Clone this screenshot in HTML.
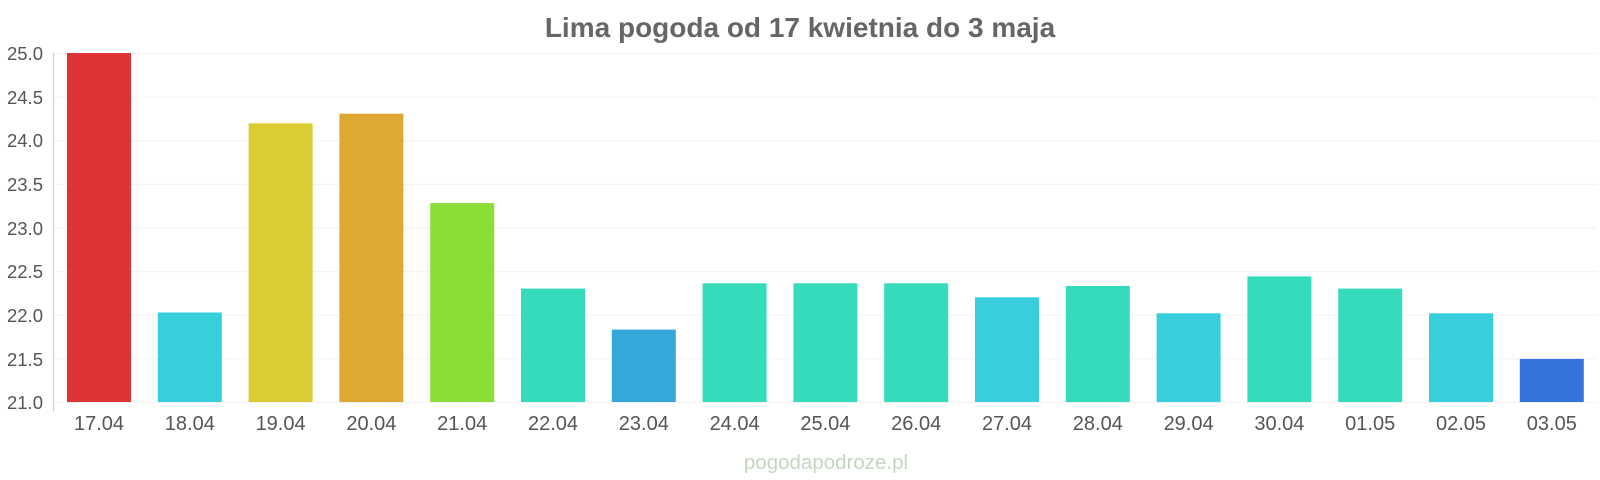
<!DOCTYPE html>
<html><head><meta charset="utf-8"><style>
html,body{margin:0;padding:0;background:#fff;}
svg{display:block;font-family:"Liberation Sans",sans-serif;}
</style></head><body>
<svg width="1600" height="480" xmlns="http://www.w3.org/2000/svg">
<text x="800" y="37" text-anchor="middle" font-size="28" font-weight="bold" fill="#666">Lima pogoda od 17 kwietnia do 3 maja</text>
<g stroke="#f2f2f2" stroke-width="1">
<line x1="53" x2="1597" y1="53.5" y2="53.5"/>
<line x1="53" x2="1597" y1="97.1" y2="97.1"/>
<line x1="53" x2="1597" y1="140.8" y2="140.8"/>
<line x1="53" x2="1597" y1="184.4" y2="184.4"/>
<line x1="53" x2="1597" y1="228" y2="228"/>
<line x1="53" x2="1597" y1="271.6" y2="271.6"/>
<line x1="53" x2="1597" y1="315.3" y2="315.3"/>
<line x1="53" x2="1597" y1="358.9" y2="358.9"/>
<line x1="53" x2="1597" y1="402.5" y2="402.5"/>
</g>
<line x1="53.5" x2="53.5" y1="53" y2="412" stroke="#ccc"/>
<g font-size="18.5" fill="#555" text-anchor="end">
<text x="43" y="60">25.0</text>
<text x="43" y="104">24.5</text>
<text x="43" y="147">24.0</text>
<text x="43" y="191">23.5</text>
<text x="43" y="235">23.0</text>
<text x="43" y="278">22.5</text>
<text x="43" y="322">22.0</text>
<text x="43" y="366">21.5</text>
<text x="43" y="409">21.0</text>
</g>
<g>
<rect x="67" y="53" width="64" height="349" fill="#dd3535"/>
<rect x="157.8" y="312.5" width="64" height="89.5" fill="#36cfdb"/>
<rect x="248.6" y="123.3" width="64" height="278.7" fill="#dccc33"/>
<rect x="339.4" y="113.7" width="64" height="288.3" fill="#dea833"/>
<rect x="430.2" y="203.1" width="64" height="198.9" fill="#8ade35"/>
<rect x="521" y="288.6" width="64" height="113.4" fill="#34dcbb"/>
<rect x="611.8" y="329.6" width="64" height="72.4" fill="#35a8db"/>
<rect x="702.6" y="283.3" width="64" height="118.7" fill="#34dcbb"/>
<rect x="793.4" y="283.3" width="64" height="118.7" fill="#34dcbb"/>
<rect x="884.2" y="283.3" width="64" height="118.7" fill="#34dcbb"/>
<rect x="975" y="297.3" width="64" height="104.7" fill="#36cfdb"/>
<rect x="1065.8" y="286" width="64" height="116" fill="#34dcbb"/>
<rect x="1156.6" y="313.3" width="64" height="88.7" fill="#36cfdb"/>
<rect x="1247.4" y="276.4" width="64" height="125.6" fill="#34dcbb"/>
<rect x="1338.2" y="288.6" width="64" height="113.4" fill="#34dcbb"/>
<rect x="1429" y="313.3" width="64" height="88.7" fill="#36cfdb"/>
<rect x="1519.8" y="358.9" width="64" height="43.1" fill="#3575db"/>
</g>
<g font-size="20" fill="#555" text-anchor="middle">
<text x="99" y="430">17.04</text>
<text x="189.8" y="430">18.04</text>
<text x="280.6" y="430">19.04</text>
<text x="371.4" y="430">20.04</text>
<text x="462.2" y="430">21.04</text>
<text x="553" y="430">22.04</text>
<text x="643.8" y="430">23.04</text>
<text x="734.6" y="430">24.04</text>
<text x="825.4" y="430">25.04</text>
<text x="916.2" y="430">26.04</text>
<text x="1007" y="430">27.04</text>
<text x="1097.8" y="430">28.04</text>
<text x="1188.6" y="430">29.04</text>
<text x="1279.4" y="430">30.04</text>
<text x="1370.2" y="430">01.05</text>
<text x="1461" y="430">02.05</text>
<text x="1551.8" y="430">03.05</text>
</g>
<text x="826" y="469" text-anchor="middle" font-size="20.5" fill="#c5d6c0">pogodapodroze.pl</text>
</svg>
</body></html>
